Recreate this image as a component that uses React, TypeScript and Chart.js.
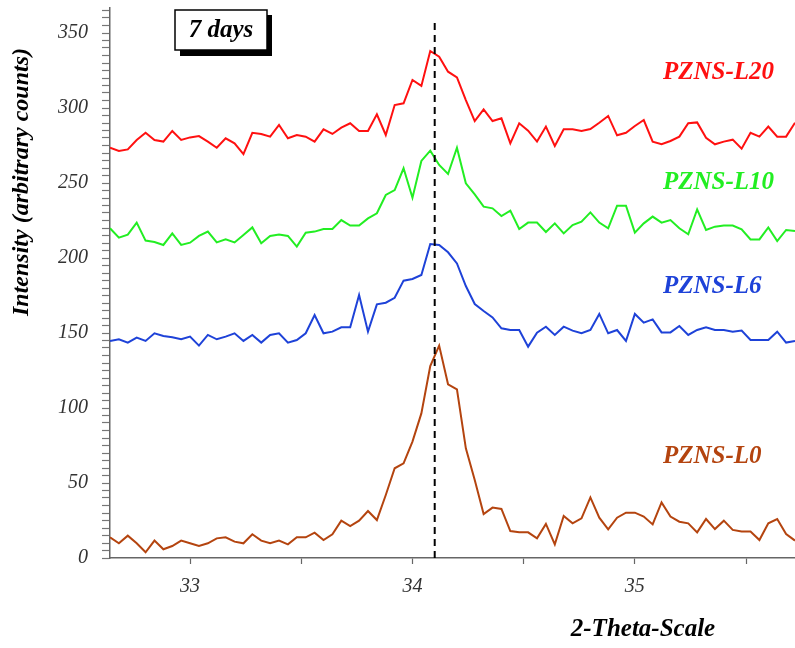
import React, { useEffect, useRef } from "react";
import { Chart, registerables } from "chart.js";

Chart.register(...registerables);

const theta = [
  32.64, 32.68, 32.72, 32.76, 32.8, 32.84, 32.88, 32.92, 32.96, 33.0,
  33.04, 33.08, 33.12, 33.16, 33.2, 33.24, 33.28, 33.32, 33.36, 33.4,
  33.44, 33.48, 33.52, 33.56, 33.6, 33.64, 33.68, 33.72, 33.76, 33.8,
  33.84, 33.88, 33.92, 33.96, 34.0, 34.04, 34.08, 34.12, 34.16, 34.2,
  34.24, 34.28, 34.32, 34.36, 34.4, 34.44, 34.48, 34.52, 34.56, 34.6,
  34.64, 34.68, 34.72, 34.76, 34.8, 34.84, 34.88, 34.92, 34.96, 35.0,
  35.04, 35.08, 35.12, 35.16, 35.2, 35.24, 35.28, 35.32, 35.36, 35.4,
  35.44, 35.48, 35.52, 35.56, 35.6, 35.64, 35.68, 35.72,
];

const pznsL20 = [
  273.5, 271.3, 272.4, 278.7, 283.5, 278.7, 277.6, 284.7, 278.7, 280.4,
  281.3, 277.6, 273.5, 279.8, 276.4, 269.3, 283.5, 282.7, 280.9, 288.7,
  279.8, 282, 280.9, 277.6, 285.8, 282.7, 286.9, 289.8, 284.7, 284.7,
  295.8, 282, 302, 303.1, 318.7, 314.7, 338, 334.2, 324.2, 320.4,
  305.3, 291.3, 299.1, 291.3, 293.1, 276.4, 289.8, 284.9, 277.6, 287.6,
  274.7, 285.8, 285.8, 284.7, 286, 290.2, 294.7, 281.8, 283.5, 288,
  292, 277.6, 275.8, 278, 280.9, 289.8, 290.4, 280.2, 275.8, 277.6,
  278.9, 272.9, 283.5, 280.9, 287.6, 280.9, 280.9, 290.2,
];

const pznsL10 = [
  219.8, 213.6, 215.6, 223.6, 211.6, 210.7, 208.7, 216.4, 208.7, 210.2,
  214.7, 217.6, 210.4, 212.4, 210.4, 215.3, 220.4, 209.8, 214.7, 215.6,
  214.7, 207.6, 216.9, 217.6, 219.3, 219.3, 225.3, 221.6, 221.6, 226.4,
  229.8, 242, 245.3, 259.8, 240.2, 264.7, 271.6, 262, 256, 273.5,
  249.8, 242.4, 234.2, 233.1, 228, 231.6, 219.3, 223.6, 223.6, 217.3,
  223.1, 216.4, 222, 224.2, 230.4, 223.6, 219.8, 234.9, 234.9, 216.9,
  223.1, 227.6, 223.6, 225.3, 219.8, 215.8, 232.4, 218.7, 220.9, 221.6,
  221.6, 219.1, 212.4, 212.4, 220.4, 211.3, 218.7, 218,
];

const pznsL6 = [
  144.7, 145.8, 143.6, 146.9, 144.7, 149.8, 148, 147.1, 145.8, 147.6,
  141.6, 148.7, 145.8, 147.6, 149.8, 144.7, 148.7, 143.6, 148.7, 149.8,
  143.6, 145.3, 149.8, 162, 149.8, 150.9, 153.8, 153.8, 175.3, 150.9,
  169.1, 170.2, 173.5, 184.9, 186, 188.7, 209.3, 208.7, 203.8, 196.4,
  181.3, 169.3, 164.7, 160.4, 153.1, 152, 152, 140.9, 150.2, 154.2,
  148.7, 154.2, 151.6, 149.8, 152, 162.7, 149.8, 152, 144.7, 162.7,
  156.9, 159.1, 150.4, 150.4, 154.7, 148.7, 152, 153.8, 152, 152,
  150.9, 151.6, 145.3, 145.3, 145.3, 150.9, 143.6, 144.7,
];

const pznsL0 = [
  13.8, 9.8, 14.9, 9.8, 3.8, 11.6, 5.8, 8, 11.6, 9.8,
  8, 9.8, 13.1, 13.8, 10.9, 9.8, 15.8, 11.6, 9.8, 11.6,
  9.1, 13.8, 13.8, 16.9, 12, 15.8, 24.9, 21.3, 24.9, 31.3,
  25.3, 42, 59.8, 63.1, 77.6, 96.4, 128, 141.6, 115.8, 112.4,
  73.1, 52, 29.3, 33.6, 32.7, 18, 17.1, 17.1, 13.1, 22.7,
  9.1, 28, 23.1, 26.4, 40.4, 26.9, 19.1, 26.9, 30.2, 30.2,
  27.6, 22.4, 37.1, 27.6, 24.2, 23.1, 17.1, 26, 19.3, 24.9,
  18.7, 17.6, 17.6, 12, 23.1, 26, 16, 11.6,
];

const markerTheta = [34.1, 34.1];
const markerIntensity = [0, 357];

const xTickValues = [33, 33.5, 34, 34.5, 35, 35.5];
const xLabelValues = [33, 34, 35];
const yTickValues = Array.from({ length: 74 }, (_, i) => i * 5);
const yLabelStep = 50;

const seriesNames = ["PZNS-L20", "PZNS-L10", "PZNS-L6", "PZNS-L0"];
const seriesColors = ["#ff1010", "#22ee22", "#1e42d8", "#b4440f"];
const seriesValues = [pznsL20, pznsL10, pznsL6, pznsL0];

const SERIF = '"Liberation Serif", "Times New Roman", serif';

const textPlugin = {
  id: "textPlugin",
  afterDraw(chart: any) {
    const ctx = chart.ctx;
    ctx.save();
    // y title
    ctx.save();
    ctx.translate(22, 182);
    ctx.rotate(-Math.PI / 2);
    ctx.font = `italic bold 24px ${SERIF}`;
    ctx.fillStyle = "#000";
    ctx.textAlign = "center";
    ctx.textBaseline = "middle";
    ctx.fillText("Intensity (arbitrary counts)", 0, 0);
    ctx.restore();
    // x title
    ctx.font = `italic bold 25px ${SERIF}`;
    ctx.fillStyle = "#000";
    ctx.textAlign = "center";
    ctx.textBaseline = "middle";
    ctx.fillText("2-Theta-Scale", 643, 630);
    // 7 days box
    ctx.fillStyle = "#000";
    ctx.fillRect(180, 15, 92, 41);
    ctx.fillStyle = "#fff";
    ctx.fillRect(175, 10, 92, 40);
    ctx.strokeStyle = "#000";
    ctx.lineWidth = 1.5;
    ctx.strokeRect(175, 10, 92, 40);
    ctx.fillStyle = "#000";
    ctx.font = `italic bold 25px ${SERIF}`;
    ctx.fillText("7 days", 221, 31);
    // series labels
    const labelY = [72.5, 183, 287, 457];
    ctx.font = `italic bold 25px ${SERIF}`;
    ctx.textAlign = "left";
    seriesNames.forEach((n, i) => {
      ctx.fillStyle = seriesColors[i];
      ctx.fillText(n, 663, labelY[i]);
    });
    ctx.restore();
  },
};

export default function App() {
  const ref = useRef<HTMLCanvasElement>(null);
  useEffect(() => {
    if (!ref.current) return;
    const datasets: any[] = [
      {
        label: "marker",
        data: markerTheta.map((x, i) => ({ x, y: markerIntensity[i] })),
        borderColor: "#000",
        borderWidth: 2,
        borderDash: [7, 5],
        pointRadius: 0,
      },
      ...seriesNames.map((name, s) => ({
        label: name,
        data: theta.map((x, i) => ({ x, y: seriesValues[s][i] })),
        borderColor: seriesColors[s],
        borderWidth: 2,
        pointRadius: 0,
        tension: 0,
      })),
    ];
    const chart = new Chart(ref.current, {
      type: "line",
      data: { datasets },
      options: {
        responsive: false,
        devicePixelRatio: 1,
        animation: false,
        layout: { padding: { top: 7.5, left: 0, right: 0, bottom: 0 } },
        plugins: { legend: { display: false }, tooltip: { enabled: false } },
        scales: {
          x: {
            type: "linear",
            min: 32.64,
            max: 35.72,
            afterFit: (s: any) => {
              s.height = 90;
              s.paddingLeft = 0;
              s.paddingRight = 0;
            },
            afterBuildTicks: (s: any) => {
              s.ticks = xTickValues.map((v) => ({ value: v }));
            },
            border: { color: "#666", width: 1.5 },
            grid: {
              drawOnChartArea: false,
              drawTicks: true,
              tickLength: 6,
              tickColor: "#666",
              tickWidth: 1.2,
            },
            ticks: {
              autoSkip: false,
              maxRotation: 0,
              padding: 11,
              color: "#333",
              font: { family: SERIF, size: 20, style: "italic" },
              callback: (v: any) => (xLabelValues.includes(Number(v)) ? String(v) : ""),
            },
          },
          y: {
            type: "linear",
            min: 0,
            max: 367,
            afterFit: (s: any) => {
              s.width = 110;
              s.paddingTop = 0;
              s.paddingBottom = 0;
            },
            afterBuildTicks: (s: any) => {
              s.ticks = yTickValues.map((v) => ({ value: v }));
            },
            border: { color: "#666", width: 1.5 },
            grid: {
              drawOnChartArea: false,
              drawTicks: true,
              tickLength: 8,
              tickColor: "#777",
              tickWidth: 1.2,
            },
            ticks: {
              autoSkip: false,
              padding: 14,
              color: "#333",
              font: { family: SERIF, size: 20, style: "italic" },
              callback: (v: any) => (Number(v) % yLabelStep === 0 ? String(v) : ""),
            },
          },
        },
      },
      plugins: [textPlugin],
    });
    return () => chart.destroy();
  }, []);
  return (
    <div style={{ position: "absolute", left: 0, top: 0, width: 795, height: 648, background: "#fff" }}>
      <canvas ref={ref} width={795} height={648} style={{ display: "block" }} />
    </div>
  );
}
